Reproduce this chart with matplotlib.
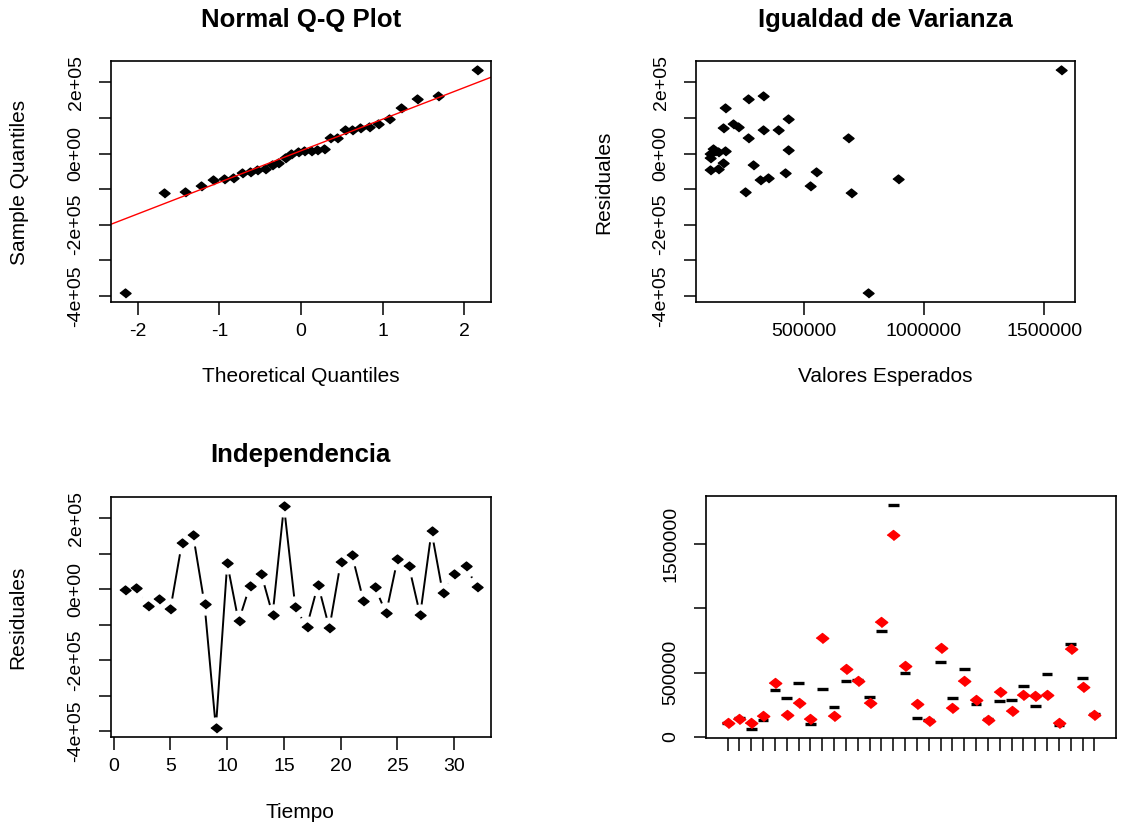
import matplotlib
matplotlib.use("Agg")
import matplotlib.pyplot as plt
import numpy as np
from statistics import NormalDist

plt.rcParams["font.family"] = ["Liberation Sans", "DejaVu Sans"]
plt.rcParams["axes.unicode_minus"] = False

# fitted values (red diamonds, bottom-right panel), in time order
fitted = [109000, 143000, 109000, 161000, 422000, 172000, 266000, 143000,
          768000, 161000, 526000, 432000, 266000, 893000, 1570000, 549000,
          255000, 122000, 695000, 224000, 432000, 286000, 130000, 349000,
          203000, 328000, 318000, 328000, 109000, 682000, 391000, 172000]
residuals = [-2000, 3000, -47000, -27000, -55000, 129000, 152000, -42000,
             -392000, 73000, -91000, 10000, 43000, -72000, 235000, -51000,
             -107000, 13000, -110000, 76000, 96000, -32000, 7000, -68000,
             84000, 66000, -73000, 163000, -12000, 44000, 66000, 6000]
tiempo = list(range(1, 33))

resid_ticks = [-400000, -300000, -200000, -100000, 0, 100000, 200000]
resid_labels = ["-4e+05", "", "-2e+05", "", "0e+00", "", "2e+05"]
qq_xticks = [-2, -1, 0, 1, 2]
esperados_ticks = [500000, 1000000, 1500000]
tiempo_ticks = [0, 5, 10, 15, 20, 25, 30]
obs_ticks = [0, 500000, 1000000, 1500000]
obs_labels = ["0", "500000", "", "1500000"]

fitted = np.array(fitted, dtype=float)
residuals = np.array(residuals, dtype=float)
observed = fitted + residuals

W, H = 1128, 824
fig = plt.figure(figsize=(W / 100, H / 100), dpi=100)


def px_axes(left, top, right, bottom):
    return fig.add_axes([left / W, 1 - bottom / H, (right - left) / W, (bottom - top) / H])


def ftext(x, y, s, **kw):
    fig.text(x / W, 1 - y / H, s, ha="center", va="center", **kw)


# R style filled diamond (slightly wide, like the picture)
diamond = [(-1, 0), (0, 0.8), (1, 0), (0, -0.8)]


def style(ax):
    for s in ax.spines.values():
        s.set_linewidth(1.2)
    ax.tick_params(direction="out", length=9, width=1.1, labelsize=14, colors="black")
    ax.tick_params(axis="x", pad=6)
    ax.tick_params(axis="y", pad=10)
    ax.margins(0.04)


def resid_yaxis(ax):
    ax.set_yticks(resid_ticks)
    ax.set_yticklabels(resid_labels, rotation=90, va="center")


# ---- Normal Q-Q plot
ax1 = px_axes(111, 61, 491, 302)
srt = np.sort(residuals)
n = len(srt)
nd = NormalDist()
theo = np.array([nd.inv_cdf((i - 0.5) / n) for i in range(1, n + 1)])
ax1.plot(theo, srt, linestyle="none", marker=diamond, markersize=8, color="black")
q1, q3 = np.percentile(residuals, [25, 75])
z1, z3 = nd.inv_cdf(0.25), nd.inv_cdf(0.75)
slope = (q3 - q1) / (z3 - z1)
ax1.axline((0, q1 - slope * z1), slope=slope, color="red", lw=1)
style(ax1)
ax1.set_xticks(qq_xticks)
resid_yaxis(ax1)
ftext(301, 20, "Normal Q-Q Plot", fontsize=18.5, fontweight="bold")
ftext(301, 377, "Theoretical Quantiles", fontsize=15)
ftext(20, 182, "Sample Quantiles", fontsize=15, rotation=90)

# ---- Igualdad de Varianza
ax2 = px_axes(696, 61, 1075, 302)
ax2.plot(fitted, residuals, linestyle="none", marker=diamond, markersize=8, color="black")
style(ax2)
ax2.set_xticks(esperados_ticks)
ax2.set_xticklabels([str(t) for t in esperados_ticks])
resid_yaxis(ax2)
ftext(885, 20, "Igualdad de Varianza", fontsize=18.5, fontweight="bold")
ftext(885, 377, "Valores Esperados", fontsize=15)
ftext(604, 182, "Residuales", fontsize=15, rotation=90)

# ---- Independencia (type = "b")
ax3 = px_axes(111, 497, 491, 737)
ax3.plot(tiempo, residuals, color="black", lw=1.4, zorder=1.9)
ax3.plot(tiempo, residuals, linestyle="none", marker="o", markersize=15,
         color="white", zorder=2.0)
ax3.plot(tiempo, residuals, linestyle="none", marker=diamond, markersize=8,
         color="black", zorder=2.1)
style(ax3)
ax3.set_xticks(tiempo_ticks)
resid_yaxis(ax3)
ftext(300, 455, "Independencia", fontsize=18.5, fontweight="bold")
ftext(300, 813, "Tiempo", fontsize=15)
ftext(18, 617, "Residuales", fontsize=15, rotation=90)

# ---- observed (boxplot lines) vs fitted (red)
ax4 = px_axes(706, 496, 1116, 738)
ax4.hlines(observed, np.array(tiempo) - 0.45, np.array(tiempo) + 0.45,
           color="black", lw=2.4, zorder=2)
ax4.plot(tiempo, fitted, linestyle="none", marker=diamond, markersize=9,
         color="red", zorder=3)
style(ax4)
ax4.set_xlim(-0.83, 33.83)
ax4.set_xticks(tiempo)
ax4.set_xticklabels([])
ax4.set_yticks(obs_ticks)
ax4.set_yticklabels(obs_labels, rotation=90, va="center")

fig.savefig("out.png", dpi=100)
